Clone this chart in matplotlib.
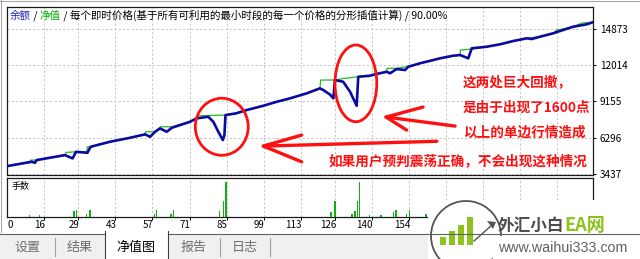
import matplotlib
matplotlib.use('Agg')
import matplotlib.pyplot as plt
from matplotlib.patches import Ellipse, Rectangle, Arc, Polygon

plt.rcParams['font.family'] = ['Noto Sans CJK SC', 'DejaVu Sans']

# ---------------- data ----------------
bal_x = [2.1, 11.3, 12.6, 13.2, 23.9, 26.8, 28.1, 32.4, 33.6, 40.9, 48.5, 54.2, 56.1,
         58.0, 59.8, 62.4, 64.3, 71.2, 73.7, 78.1, 80.0, 81.9, 83.6, 84.2, 84.6, 88.6,
         92.6, 98.9, 104.0, 109.0, 115.3, 120.3, 121.6, 124.1, 125.4, 126.0, 129.1,
         131.7, 134.2, 134.8, 139.2, 141.1, 145.6, 146.8, 149.3, 152.5, 153.7, 158.1,
         163.2, 165.7, 170.7, 173.3, 176.4, 177.7, 183.4, 188.4, 193.4, 198.5, 200.4,
         203.5, 208.5, 211.1, 216.1, 221.2, 223.4]
bal_y = [4053, 4392, 4313, 4527, 4922, 4661, 5182, 5103, 5577, 5972, 6288, 6557, 6367,
         6762, 7030, 6762, 7077, 7552, 7820, 7946, 7552, 6762, 6106, 6500, 8081, 8215,
         8476, 8815, 9131, 9400, 9795, 10189, 10055, 9700, 9400, 10845, 10711,
         9921, 8815, 11106, 11185, 11295, 11501, 11374, 11714, 11635, 11895, 12164,
         12425, 12559, 12764, 12820, 12559, 13349, 13475, 13665, 13925, 14138, 14083,
         14265, 14533, 14715, 15055, 15244, 15402]

eq_x = [2.1, 10.7, 10.9, 13.3, 23.9, 24.3, 28.1, 32.2, 32.4, 33.8, 40.9, 48.5, 54.2,
        54.3, 58.0, 59.8, 60.0, 64.3, 71.2, 73.7, 74.0, 84.6, 88.6, 92.6, 98.9, 104.0,
        109.0, 115.3, 120.3, 120.6, 126.0, 129.1, 134.8, 139.2, 141.1, 145.6, 145.7,
        149.3, 152.1, 153.7, 158.1, 163.2, 165.7, 170.7, 173.3, 173.4, 177.7, 183.4,
        188.4, 193.4, 198.5, 200.4, 203.5, 208.5, 209.9, 211.1, 216.1, 219.4, 223.4]
eq_y = [4053, 4408, 4527, 4527, 4922, 5135, 5182, 5182, 5577, 5577, 5972, 6288, 6557,
        6762, 6762, 7030, 7157, 7157, 7552, 7820, 8026, 8081, 8215, 8476, 8815, 9131,
        9400, 9795, 10189, 10845, 10845, 10964, 11106, 11185, 11295, 11501, 11769,
        11769, 11872, 11895, 12164, 12425, 12559, 12764, 12820, 13214, 13293, 13475,
        13665, 13925, 14138, 14201, 14265, 14533, 14794, 14834, 15055, 15347, 15402]

lot_x = [10.4, 14.2, 27.3, 28.2, 32.1, 33.4, 57.7, 58.6, 64.0, 64.9, 82.2, 83.8, 84.8,
         124.5, 126.0, 132.4, 133.6, 134.4, 135.2, 139.2, 143.4, 148.0, 149.1, 153.1,
         154.1, 160.4]
lot_v = [0.01, 0.01, 0.04, 0.05, 0.02, 0.05, 0.02, 0.05, 0.02, 0.05, 0.04, 0.11, 0.24,
         0.03, 0.11, 0.02, 0.04, 0.11, 0.24, 0.01, 0.01, 0.035, 0.05, 0.02, 0.05, 0.02]

y_ticks = [3437, 6296, 9155, 12014, 14873]
x_ticks = [16, 29, 43, 57, 71, 85, 99, 113, 126, 140, 154, 168, 182, 196, 210]
x_labels = ['16', '29', '43', '57', '71', '85', '99', '113', '126', '140', '154']
x_first_label = '0'

title_parts = [('余额', '#2020c0'), (' / ', '#000000'), ('净值', '#00b000'),
               (' / 每个即时价格(基于所有可利用的最小时段的每一个价格的分形插值计算) / 90.00%', '#000000')]
lot_title = '手数'
notes = ['这两处巨大回撤，', '是由于出现了1600点', '以上的单边行情造成', '如果用户预判震荡正确，不会出现这种情况']
tabs = ['设置', '结果', '净值图', '报告', '日志']

# ---------------- figure ----------------
W, H = 640, 259
fig = plt.figure(figsize=(W / 100, H / 100), dpi=100)
fig.patch.set_facecolor('white')

def box(l, t, r, b):
    return [l / W, 1 - b / H, (r - l) / W, (b - t) / H]

XMIN, XMAX = 2.0, 223.55
YMIN, YMAX = 3390, 16610

ax = fig.add_axes(box(7, 7, 593, 174.5))
ax2 = fig.add_axes(box(7, 178, 593, 216.7))

grid_kw = dict(color='#c4c4c4', linestyle=(0, (2.2, 2.2)), linewidth=0.7)
for a in (ax, ax2):
    a.set_xlim(XMIN, XMAX)
    for s in a.spines.values():
        s.set_color('#1a1a1a')
        s.set_linewidth(0.9)
    a.set_xticks(x_ticks)
    a.grid(True, axis='x', **grid_kw)
    a.set_axisbelow(True)

# main panel
ax.set_ylim(YMIN, YMAX)
ax.set_yticks(y_ticks)
ax.set_yticklabels([str(v) for v in y_ticks], fontsize=7.2)
ax.yaxis.tick_right()
ax.tick_params(axis='y', length=2.5, width=0.7, pad=2.5, colors='#000000')
ax.tick_params(axis='x', length=0, labelbottom=False)
ax.grid(True, axis='y', **grid_kw)
ax.plot(eq_x, eq_y, color='#22bb22', linewidth=0.9, zorder=3)
ax.plot(bal_x, bal_y, color='#0a0aa0', linewidth=1.9, zorder=4)

# title pieces
prev = ax.text(3 / 586, 0.946, title_parts[0][0], transform=ax.transAxes, fontsize=7.6,
               color=title_parts[0][1], va='center', ha='left')
for s, c in title_parts[1:]:
    prev = ax.annotate(s, xy=(1, 0), xycoords=prev, fontsize=7.6, color=c, va='bottom', ha='left')

# red annotations
red = '#ff1010'
ax.add_patch(Ellipse((83.2, 7157), 20.0, 4502, fill=False, ec=red, lw=2.0, zorder=6))
ax.add_patch(Ellipse((133.9, 10584), 15.8, 6058, fill=False, ec=red, lw=2.0, zorder=6))
arrow_kw = dict(color=red, lw=2.4, solid_capstyle='round', zorder=6)
ax.plot([171.4, 145.3], [7212, 7923], **arrow_kw)
ax.plot([159.3, 145.3, 153.1], [8713, 7923, 6896], **arrow_kw)
ax.plot([164.5, 98.9], [6011, 5632], **arrow_kw)
ax.plot([113.4, 98.9, 113.4], [6501, 5632, 4392], **arrow_kw)

note_pos = [(0.778, 0.552), (0.778, 0.397), (0.778, 0.248), (0.549, 0.081)]
for t, (nx, ny) in zip(notes, note_pos):
    ax.text(nx, ny, t, transform=ax.transAxes, fontsize=9.8, fontweight='bold',
            color=red, ha='left', va='center', zorder=7)

# lots panel
ax2.set_ylim(0, 0.27)
ax2.set_yticks([])
ax2.bar(lot_x, lot_v, width=0.45, color='#10b010', zorder=3)
ax2.tick_params(axis='x', length=2.5, width=0.7, direction='out', labelbottom=False)
ax2.text(5 / 586, 0.78, lot_title, transform=ax2.transAxes, fontsize=6.5, ha='left', va='center')
xtr = ax2.get_xaxis_transform()
ax2.text(4.3, -0.22, x_first_label, transform=xtr, fontsize=7, ha='right', va='center')
for t, lab in zip(x_ticks, x_labels):
    ax2.text(t + 0.4, -0.22, lab, transform=xtr, fontsize=7, ha='right', va='center')

# ---------------- overlay: window chrome & logo ----------------
ov = fig.add_axes([0, 0, 1, 1], zorder=20)
ov.set_xlim(0, W)
ov.set_ylim(H, 0)
ov.axis('off')
ov.patch.set_alpha(0)

ov.plot([0, W], [1, 1], color='#a8a8a8', lw=0.8)
ov.plot([1, 1], [0, 232], color='#a8a8a8', lw=0.8)

# tabs
ov.add_patch(Rectangle((0, 234), W, 25, fc='#f0f0f0', ec='none'))
ov.plot([0, 105], [234, 234], color='#606060', lw=0.8)
ov.plot([168, W], [234, 234], color='#606060', lw=0.8)
ov.add_patch(Rectangle((105, 231), 63, 28, fc='white', ec='none'))
ov.plot([105, 105], [231, 259], color='#404040', lw=0.8)
ov.plot([168, 168], [231, 259], color='#404040', lw=0.8)
for sx in (55, 220, 270):
    ov.plot([sx, sx], [238, 256], color='#a0a0a0', lw=0.8)
tab_cx = [27, 80, 136, 194, 245]
for i, (t, cx) in enumerate(zip(tabs, tab_cx)):
    ov.text(cx, 247, t, fontsize=9.4, ha='center', va='center',
            color='#000000' if i == 2 else '#707070')

# logo
ov.add_patch(Rectangle((428, 200), W - 428, H - 200, fc='white', ec='none'))
ov.add_patch(Arc((466, 236), 70, 70, theta1=40, theta2=360, color='#555555', lw=1.3))
ov.add_patch(Polygon([[496, 222], [487, 221], [493, 229]], closed=True, fc='#555555', ec='none'))
ov.plot([474, 492], [241, 225], color='#555555', lw=1.0)
for bx, bh in zip([440, 449, 458, 467], [8, 14, 20, 28]):
    ov.add_patch(Rectangle((bx, 245 - bh), 5.5, bh, fc='#8dc21f', ec='none'))
t1 = ov.text(498, 226, '外汇小白', fontsize=12, fontweight='bold', color='#4d4d4d',
             ha='left', va='center')
ov.annotate('EA网', xy=(1, 0), xycoords=t1, fontsize=13, fontweight='bold',
            color='#8dc21f', ha='left', va='bottom')
ov.text(498, 248, 'www.waihui333.com', fontsize=10.3, color='#606060', ha='left',
        va='center', family=['Liberation Sans', 'DejaVu Sans'])

fig.savefig('out.png', dpi=100)
